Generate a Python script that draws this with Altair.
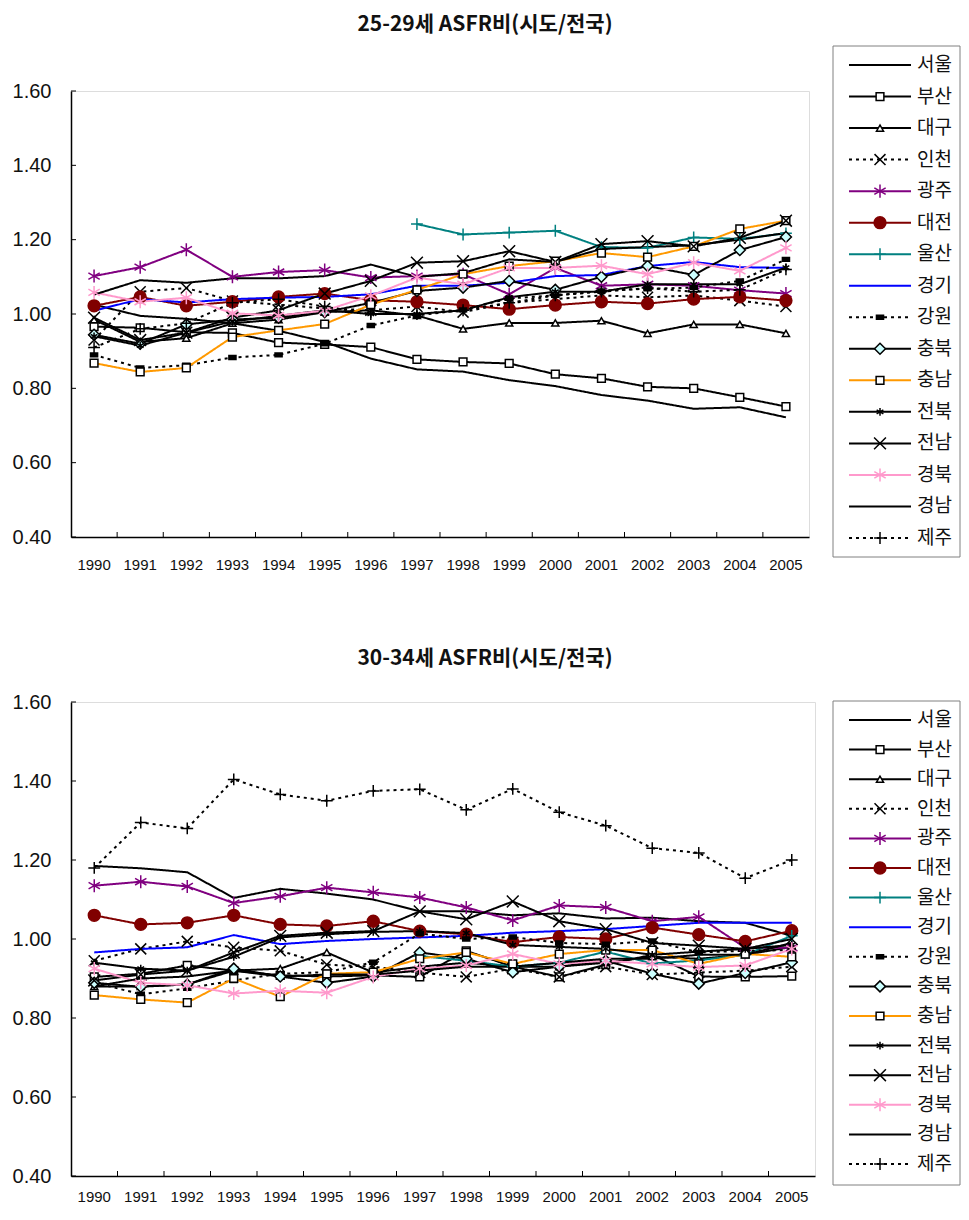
import altair as alt
import pandas as pd

years = list(range(1990, 2006))
names = ["서울", "부산", "대구", "인천", "광주", "대전", "울산", "경기",
         "강원", "충북", "충남", "전북", "전남", "경북", "경남", "제주"]
ytick_values = [0.4, 0.6, 0.8, 1.0, 1.2, 1.4, 1.6]
title_top = "25-29세 ASFR비(시도/전국)"
title_bottom = "30-34세 ASFR비(시도/전국)"

# ---- 25-29 age group (ratio to national) ----
t_seoul = [1.025, 0.995, 0.987, 0.975, 0.955, 0.925, 0.880, 0.851, 0.845, 0.822, 0.806, 0.782, 0.767, 0.745, 0.749, 0.722]
t_busan = [0.966, 0.963, 0.951, 0.949, 0.923, 0.918, 0.911, 0.878, 0.871, 0.867, 0.838, 0.827, 0.804, 0.800, 0.776, 0.751]
t_daegu = [0.985, 0.925, 0.935, 0.975, 0.985, 1.005, 1.010, 0.996, 0.960, 0.976, 0.976, 0.982, 0.948, 0.972, 0.972, 0.948]
t_incheon = [0.930, 1.060, 1.070, 1.035, 1.025, 1.015, 1.010, 1.020, 1.005, 1.030, 1.040, 1.050, 1.045, 1.050, 1.036, 1.020]
t_gwangju = [1.102, 1.126, 1.173, 1.100, 1.113, 1.118, 1.098, 1.102, 1.107, 1.053, 1.124, 1.076, 1.080, 1.076, 1.064, 1.055]
t_daejeon = [1.022, 1.046, 1.022, 1.033, 1.046, 1.055, 1.037, 1.033, 1.024, 1.013, 1.024, 1.033, 1.028, 1.040, 1.046, 1.036]
t_ulsan = [None, None, None, None, None, None, None, 1.242, 1.214, 1.219, 1.224, 1.180, 1.178, 1.206, 1.202, 1.217]
t_gyeonggi = [1.009, 1.040, 1.031, 1.040, 1.044, 1.046, 1.053, 1.076, 1.076, 1.084, 1.102, 1.105, 1.129, 1.140, 1.126, 1.124]
t_gangwon = [0.890, 0.855, 0.862, 0.883, 0.890, 0.920, 0.969, 0.996, 1.011, 1.042, 1.050, 1.062, 1.068, 1.071, 1.089, 1.147]
t_chungbuk = [0.944, 0.920, 0.972, 0.985, 0.990, 1.005, 1.030, 1.062, 1.071, 1.089, 1.065, 1.100, 1.129, 1.105, 1.172, 1.207]
t_chungnam = [0.868, 0.844, 0.855, 0.938, 0.956, 0.973, 1.025, 1.065, 1.107, 1.129, 1.142, 1.164, 1.153, 1.182, 1.229, 1.251]
t_jeonbuk = [0.940, 0.915, 0.950, 0.980, 0.995, 1.010, 1.000, 1.000, 1.010, 1.045, 1.060, 1.060, 1.080, 1.080, 1.080, 1.125]
t_jeonnam = [0.990, 0.930, 0.950, 0.990, 1.010, 1.055, 1.089, 1.138, 1.142, 1.169, 1.140, 1.188, 1.196, 1.182, 1.205, 1.251]
t_gyeongbuk = [1.058, 1.033, 1.044, 1.002, 0.996, 1.009, 1.049, 1.098, 1.080, 1.124, 1.124, 1.130, 1.107, 1.138, 1.116, 1.178]
t_gyeongnam = [1.052, 1.091, 1.084, 1.096, 1.096, 1.102, 1.133, 1.100, 1.110, 1.147, 1.140, 1.175, 1.180, 1.185, 1.200, 1.218]
t_jeju = [0.910, 0.960, 0.975, 1.030, 1.040, 1.020, 1.000, 1.000, 1.010, 1.030, 1.050, 1.060, 1.070, 1.060, 1.065, 1.120]

# ---- 30-34 age group (ratio to national) ----
b_seoul = [1.185, 1.179, 1.169, 1.104, 1.127, 1.115, 1.100, 1.070, 1.070, 1.060, 1.065, 1.052, 1.054, 1.045, 1.041, 1.008]
b_busan = [0.904, 0.912, 0.933, 0.920, 0.908, 0.905, 0.908, 0.904, 0.970, 0.930, 0.904, 0.935, 0.960, 0.905, 0.904, 0.906]
b_daegu = [0.880, 0.880, 0.885, 0.920, 0.925, 0.966, 0.915, 0.930, 0.940, 0.930, 0.930, 0.940, 0.955, 0.950, 0.960, 0.980]
b_incheon = [0.945, 0.975, 0.994, 0.979, 0.970, 0.935, 0.930, 0.915, 0.904, 0.925, 0.904, 0.930, 0.910, 0.915, 0.920, 0.930]
b_gwangju = [1.135, 1.145, 1.133, 1.091, 1.108, 1.130, 1.118, 1.105, 1.080, 1.047, 1.085, 1.080, 1.045, 1.056, 0.978, 0.978]
b_daejeon = [1.060, 1.037, 1.041, 1.060, 1.037, 1.033, 1.045, 1.020, 1.012, 0.992, 1.005, 1.000, 1.029, 1.011, 0.994, 1.021]
b_ulsan = [None, None, None, None, None, None, None, 0.957, 0.945, 0.930, 0.940, 0.968, 0.938, 0.946, 0.960, 1.008]
b_gyeonggi = [0.966, 0.975, 0.979, 1.010, 0.987, 0.995, 1.000, 1.004, 1.008, 1.016, 1.020, 1.025, 1.033, 1.041, 1.041, 1.041]
b_gangwon = [0.890, 0.860, 0.875, 0.895, 0.912, 0.916, 0.941, 1.014, 1.000, 1.005, 0.990, 0.987, 0.995, 0.966, 0.970, 0.972]
b_chungbuk = [0.889, 0.879, 0.885, 0.925, 0.905, 0.889, 0.905, 0.966, 0.950, 0.916, 0.930, 0.945, 0.912, 0.887, 0.914, 0.941]
b_chungnam = [0.858, 0.847, 0.839, 0.900, 0.854, 0.912, 0.916, 0.950, 0.966, 0.937, 0.962, 0.972, 0.972, 0.937, 0.962, 0.955]
b_jeonbuk = [0.940, 0.925, 0.920, 0.955, 1.004, 1.012, 1.018, 1.020, 1.015, 0.985, 0.980, 0.975, 0.960, 0.968, 0.975, 0.985]
b_jeonnam = [0.895, 0.910, 0.920, 0.966, 1.008, 1.016, 1.020, 1.070, 1.050, 1.095, 1.045, 1.025, 0.990, 0.983, 0.975, 1.000]
b_gyeongbuk = [0.925, 0.889, 0.883, 0.862, 0.869, 0.864, 0.904, 0.925, 0.933, 0.962, 0.937, 0.945, 0.937, 0.929, 0.933, 0.975]
b_gyeongnam = [0.880, 0.900, 0.905, 0.920, 0.905, 0.910, 0.910, 0.920, 0.930, 0.930, 0.940, 0.950, 0.950, 0.960, 0.960, 0.990]
b_jeju = [1.180, 1.295, 1.280, 1.404, 1.366, 1.350, 1.375, 1.379, 1.327, 1.380, 1.321, 1.287, 1.230, 1.218, 1.154, 1.200]

top_series = [t_seoul, t_busan, t_daegu, t_incheon, t_gwangju, t_daejeon, t_ulsan, t_gyeonggi,
              t_gangwon, t_chungbuk, t_chungnam, t_jeonbuk, t_jeonnam, t_gyeongbuk, t_gyeongnam, t_jeju]
bot_series = [b_seoul, b_busan, b_daegu, b_incheon, b_gwangju, b_daejeon, b_ulsan, b_gyeonggi,
              b_gangwon, b_chungbuk, b_chungnam, b_jeonbuk, b_jeonnam, b_gyeongbuk, b_gyeongnam, b_jeju]

# ---- styles ----
BLACK = "#000000"
PURPLE = "#800080"
MAROON = "#800000"
TEAL = "#008080"
BLUE = "#0000FF"
ORANGE = "#FF9900"
PINK = "#FF99CC"
NONE = "transparent"

SOLID = [1, 0]
DOT = [3, 4]

X_PATH = "M-1,-1L1,1M-1,1L1,-1"
PLUS_PATH = "M-1,0L1,0M0,-1L0,1"
AST_PATH = "M0,-1L0,1M-0.87,-0.5L0.87,0.5M-0.87,0.5L0.87,-0.5"
RECT_PATH = "M-1,-0.55L1,-0.55L1,0.55L-1,0.55Z"

line_colors = [BLACK, BLACK, BLACK, BLACK, PURPLE, MAROON, TEAL, BLUE,
               BLACK, BLACK, ORANGE, BLACK, BLACK, PINK, BLACK, BLACK]
line_dashes = [SOLID, SOLID, SOLID, DOT, SOLID, SOLID, SOLID, SOLID,
               DOT, SOLID, SOLID, SOLID, SOLID, SOLID, SOLID, DOT]
mk_shapes = ["circle", "square", "triangle-up", X_PATH, AST_PATH, "circle", PLUS_PATH, "circle",
             RECT_PATH, "diamond", "square", AST_PATH, X_PATH, AST_PATH, "circle", PLUS_PATH]
mk_strokes = [NONE, BLACK, BLACK, BLACK, PURPLE, MAROON, TEAL, NONE,
              BLACK, BLACK, BLACK, BLACK, BLACK, PINK, NONE, BLACK]
mk_fills = [NONE, "white", "white", NONE, NONE, MAROON, NONE, NONE,
            BLACK, "#CCFFFF", "white", NONE, NONE, NONE, NONE, NONE]
mk_sizes = [0, 60, 50, 120, 170, 140, 140, 0, 50, 120, 60, 60, 140, 170, 0, 140]
size_of = dict(zip(names, mk_sizes))
marker_names = [n for n, s in zip(names, mk_sizes) if s > 0]

FONT_NUM = "Liberation Sans"
FONT_KR = "Noto Sans CJK KR"
FRAME = "#808080"
LEG_W = 127


def long_df(series_list):
    rows = []
    for name, vals in zip(names, series_list):
        for yr, v in zip(years, vals):
            if v is not None:
                rows.append({"name": name, "year": yr, "value": v, "msize": size_of[name]})
    return pd.DataFrame(rows)


color_enc = alt.Color("name:N", scale=alt.Scale(domain=names, range=line_colors), legend=None)
dash_enc = alt.StrokeDash("name:N", scale=alt.Scale(domain=names, range=line_dashes), legend=None)
shape_enc = alt.Shape("name:N", scale=alt.Scale(domain=names, range=mk_shapes), legend=None)
stroke_enc = alt.Stroke("name:N", scale=alt.Scale(domain=names, range=mk_strokes), legend=None)
fill_enc = alt.Fill("name:N", scale=alt.Scale(domain=names, range=mk_fills), legend=None)
size_enc = alt.Size("msize:Q", scale=None, legend=None)


def panel(series_list, w, h, ypad, xpad, leg_gap, leg_top, leg_bottom, item_first, item_last,
          title, title_offset, title_dx):
    df = long_df(series_list)
    xscale = alt.Scale(type="band", domain=years, paddingInner=0, paddingOuter=0)
    yscale = alt.Scale(domain=[0.4, 1.6], nice=False, zero=False)
    xaxis = alt.Axis(title=None, labelAngle=0, tickSize=0, labelFontSize=15,
                     labelFont=FONT_NUM, labelColor="#111", labelPadding=xpad,
                     domainColor=BLACK, domainWidth=1.5)
    yaxis = alt.Axis(title=None, values=ytick_values, format=".2f", tickSize=0,
                     labelFontSize=20, labelFont=FONT_NUM, labelColor="#111",
                     labelPadding=ypad, grid=False, domainColor=BLACK, domainWidth=1.5)
    x = alt.X("year:O", scale=xscale, bandPosition=0.5, axis=xaxis)
    y = alt.Y("value:Q", scale=yscale, axis=yaxis)
    base = alt.Chart(df)
    lines = base.mark_line(strokeWidth=2).encode(x=x, y=y, color=color_enc, strokeDash=dash_enc,
                                                 detail="name:N")
    pts = base.transform_filter(
        alt.FieldOneOfPredicate(field="name", oneOf=marker_names)
    ).mark_point(filled=True, strokeWidth=1.5, opacity=1).encode(
        x=x, y=y, shape=shape_enc, stroke=stroke_enc, fill=fill_enc, size=size_enc)
    xt = alt.Chart(pd.DataFrame({"year": years[1:]})).mark_rule(color=BLACK, strokeWidth=1).encode(
        x=alt.X("year:O", scale=xscale, bandPosition=0, axis=xaxis),
        y=alt.value(h - 5), y2=alt.value(h))
    yt = alt.Chart(pd.DataFrame({"value": ytick_values})).mark_rule(color=BLACK, strokeWidth=1).encode(
        y=alt.Y("value:Q", scale=yscale, axis=yaxis),
        x=alt.value(0), x2=alt.value(5))
    plot = alt.layer(lines, pts, xt, yt)

    # legend box drawn to the right of the plot area
    lx = w + leg_gap
    ldf = pd.DataFrame({"name": names, "msize": mk_sizes})
    ly = alt.Y("name:N", sort=names,
               scale=alt.Scale(type="point", domain=names, range=[item_first, item_last], padding=0),
               axis=None)
    lbase = alt.Chart(ldf)
    box = alt.Chart(pd.DataFrame({"k": [0]})).mark_rect(
        fill="white", stroke=FRAME, strokeWidth=1).encode(
        x=alt.value(lx), x2=alt.value(lx + LEG_W), y=alt.value(leg_top), y2=alt.value(leg_bottom))
    lrule = lbase.mark_rule(strokeWidth=2).encode(
        y=ly, x=alt.value(lx + 16), x2=alt.value(lx + 78), color=color_enc, strokeDash=dash_enc)
    lpts = lbase.transform_filter(
        alt.FieldOneOfPredicate(field="name", oneOf=marker_names)
    ).mark_point(filled=True, strokeWidth=1.5, opacity=1).encode(
        y=ly, x=alt.value(lx + 47), shape=shape_enc, stroke=stroke_enc, fill=fill_enc, size=size_enc)
    ltxt = lbase.mark_text(align="left", baseline="middle", fontSize=19, font=FONT_KR,
                           color="#111").encode(y=ly, x=alt.value(lx + 84), text="name:N")
    legend = alt.layer(box, lrule, lpts, ltxt)

    return alt.layer(plot, legend).resolve_scale(y="independent").properties(
        width=w, height=h,
        title=alt.TitleParams(title, fontSize=21, font=FONT_KR, fontWeight="bold",
                              anchor="middle", offset=title_offset, dx=title_dx, color="#111"))


top = panel(top_series, 738, 446, 20, 20, 24, -45, 466, -26, 447, title_top, 11, 45)
bottom = panel(bot_series, 744, 474, 20, 13, 18, -1, 483, 18, 462, title_bottom, 23, 42)

chart = alt.vconcat(top, bottom, spacing=74).properties(
    padding={"left": 3, "top": 5, "right": 0, "bottom": 0}
).configure_view(stroke=FRAME, strokeWidth=1).configure(background="white")

chart.save("out.html", embed_options={"renderer": "svg", "actions": False})
